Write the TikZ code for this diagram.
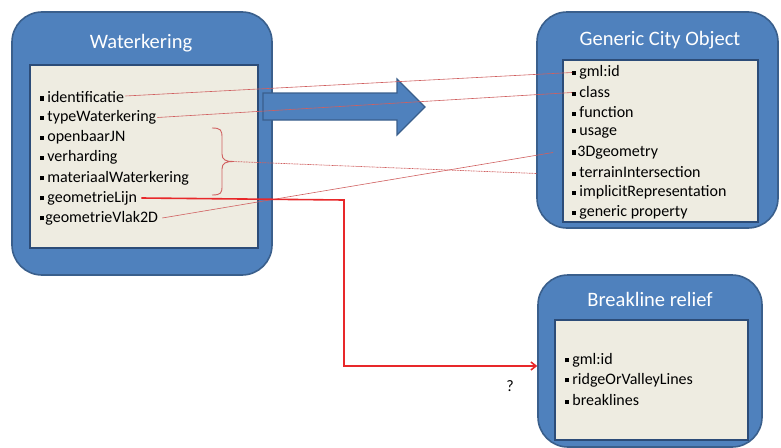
\documentclass[tikz,border=0pt]{standalone}
\usepackage{fontspec}
\setmainfont{Carlito}
\usetikzlibrary{arrows.meta,calc}
\definecolor{boxblue}{HTML}{4F81BD}
\definecolor{boxedge}{HTML}{3A5F8C}
\definecolor{inneredge}{HTML}{2C4C78}
\definecolor{panel}{HTML}{EEECE1}
\definecolor{thinred}{HTML}{D06060}
\definecolor{strongred}{HTML}{E8282A}
\newcommand{\bul}{\rule[1.8pt]{4.2pt}{4.2pt}\hspace{3pt}}
\newcommand{\bulx}{\rule[1.8pt]{4.2pt}{4.2pt}\hspace{1pt}}
\begin{document}
\begin{tikzpicture}[x=1pt,y=-1pt,
  outerbox/.style={draw=boxedge, line width=1.6pt, fill=boxblue, rounded corners=30pt, inner sep=0pt},
  innerbox/.style={draw=inneredge, line width=1.4pt, fill=panel, inner sep=0pt},
  title/.style={text=white, font=\fontsize{20.5}{24}\selectfont},
  item/.style={anchor=west, inner sep=0pt, font=\fontsize{16}{18}\selectfont},
  link/.style={draw=thinred, line width=0.6pt},
  dotlink/.style={draw=thinred, line width=0.7pt, dash pattern=on 1pt off 0.6pt},
  mainlink/.style={draw=strongred, line width=1.6pt, -{Straight Barb[length=5pt,width=8pt]}}]
\useasboundingbox (0,0) rectangle (781,447);

% Waterkering
\node[outerbox, minimum width=260pt, minimum height=263pt] (wk) at (142,143.5) {};
\node[innerbox, minimum width=228pt, minimum height=183pt] (wkin) at (144,156.5) {};
\node[title] (wkt) at (141,43) {Waterkering};
\node[item] (wk1) at (40,97) {\bul identificatie};
\node[item] (wk2) at (40,117.5) {\bul typeWaterkering};
\node[item] (wk3) at (40,137.5) {\bul openbaarJN};
\node[item] (wk4) at (40,157.5) {\bul verharding};
\node[item] (wk5) at (40,178) {\bul materiaalWaterkering};
\node[item] (wk6) at (40,198) {\bul geometrieLijn};
\node[item] (wk7) at (40,218) {\bulx geometrieVlak2D};

% Generic City Object
\node[outerbox, minimum width=241pt, minimum height=216pt] (gco) at (657.5,120) {};
\node[innerbox, minimum width=195pt, minimum height=162pt] (gcoin) at (660.5,141) {};
\node[title] (gcot) at (660,40) {Generic City Object};
\node[item] (g1) at (572,72.5) {\bul gml:id};
\node[item] (g2) at (572,92.5) {\bul class};
\node[item] (g3) at (572,112.5) {\bul function};
\node[item] (g4) at (572,132.5) {\bul usage};
\node[item] (g5) at (572,152.5) {\bulx 3Dgeometry};
\node[item] (g6) at (572,172.5) {\bul terrainIntersection};
\node[item] (g7) at (572,192.5) {\bul implicitRepresentation};
\node[item] (g8) at (572,212.5) {\bul generic property};

% Breakline relief
\node[outerbox, minimum width=224pt, minimum height=172pt] (brl) at (650,361) {};
\node[innerbox, minimum width=193pt, minimum height=120pt] (brlin) at (651.5,380) {};
\node[title] (brlt) at (650,299) {Breakline relief};
\node[item] (b1) at (565,360) {\bul gml:id};
\node[item] (b2) at (565,380) {\bul ridgeOrValleyLines};
\node[item] (b3) at (565,400) {\bul breaklines};

% broad mapping arrow
\draw[draw=boxedge, line width=1.2pt, fill=boxblue]
  (263,93) -- (397,93) -- (397,79) -- (425,107) -- (397,135) -- (397,120) -- (263,120) -- cycle;

% brace grouping three attributes
\coordinate (brtip) at (233,161.5);
\draw[link, line width=0.9pt]
  (212,128) .. controls (221,128) and (222,130) .. (222,138) -- (222,154)
  .. controls (222,160) and (226,161.5) .. (brtip)
  .. controls (226,161.5) and (222,163) .. (222,169) -- (222,186)
  .. controls (222,193) and (221,195) .. (212,195);

% attribute correspondences
\coordinate (g5end) at ($(g5.west)+(-19,0)$);
\coordinate (g6end) at ($(g6.west)+(-35,1)$);
\draw[link] ($(wk1.east)+(1,-1)$) -- (g1.west);
\draw[link] ($(wk2.east)+(1,0)$) -- (g2.west);
\draw[dotlink] (brtip) -- (g6end);
\draw[link] ($(wk7.east)+(4,0)$) -- (g5end);

% geometry to breakline relief
\coordinate (bend) at (344,200);
\coordinate (brlentry) at ($(brl.west)+(0,5)$);
\draw[mainlink] ($(wk6.east)+(4,0)$) -- (bend) |- (brlentry);
\node[font=\fontsize{16}{18}\selectfont] (q) at (510,386) {?};
\end{tikzpicture}
\end{document}
